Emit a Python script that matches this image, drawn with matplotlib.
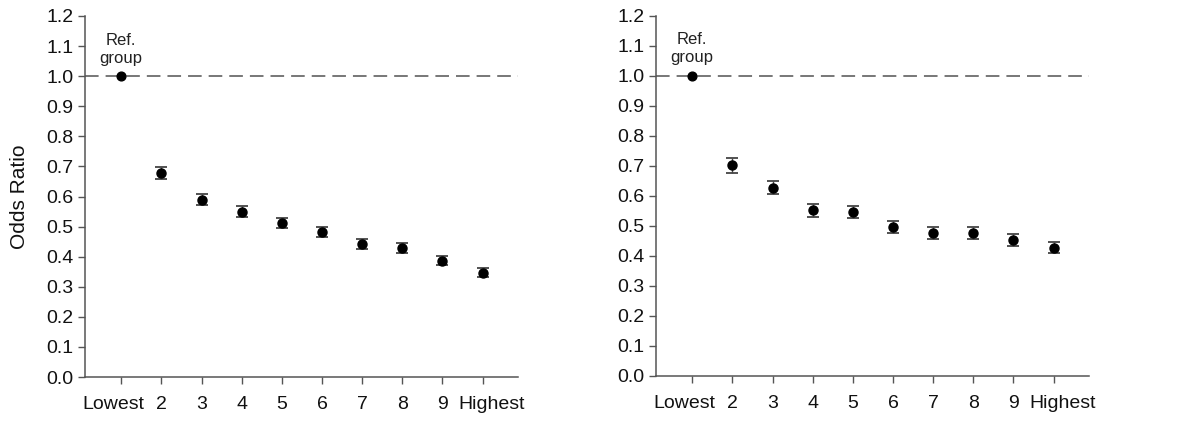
import matplotlib
matplotlib.use("Agg")
import matplotlib.pyplot as plt
import matplotlib.transforms as mtrans

categories = ["Lowest", "2", "3", "4", "5", "6", "7", "8", "9", "Highest"]
left_or = [1.0, 0.678, 0.590, 0.549, 0.512, 0.481, 0.441, 0.430, 0.387, 0.346]
left_err = [0.0, 0.019, 0.018, 0.018, 0.018, 0.016, 0.017, 0.017, 0.016, 0.015]
right_or = [1.0, 0.702, 0.628, 0.552, 0.548, 0.496, 0.477, 0.477, 0.453, 0.427]
right_err = [0.0, 0.024, 0.022, 0.021, 0.020, 0.020, 0.019, 0.019, 0.019, 0.018]
yticks = [round(0.1 * i, 1) for i in range(13)]

plt.rcParams['font.family'] = ['Liberation Sans', 'DejaVu Sans']
fig = plt.figure(figsize=(11.81, 4.21), dpi=100)
ax1 = fig.add_axes([0.072, 0.1045, 0.3666, 0.8575])
ax2 = fig.add_axes([0.5555, 0.107, 0.3666, 0.855])

axc = '#555555'
for ax, vals, errs in [(ax1, left_or, left_err), (ax2, right_or, right_err)]:
    x = list(range(1, len(categories) + 1))
    ax.axhline(1.0, color='#777777', lw=1.4, ls=(0, (7, 3.6)), zorder=1)
    ax.errorbar(x[1:], vals[1:], yerr=errs[1:], fmt='o', color='black', ms=6.5,
                ecolor='#444444', elinewidth=1.0, capsize=4, capthick=1.3, zorder=3)
    ax.plot(x[0], vals[0], 'o', color='black', ms=6.3, zorder=3)
    ax.text(x[0], 1.035, "Ref.\ngroup", ha='center', va='bottom', fontsize=12,
            color='#222222', linespacing=1.25)
    ax.set_xlim(0.1, 10.88)
    ax.set_ylim(0, 1.2)
    ax.set_yticks(yticks)
    ax.set_yticklabels([f"{v:.1f}" for v in yticks])
    ax.set_xticks(x)
    ax.set_xticklabels(categories)
    for s in ['top', 'right']:
        ax.spines[s].set_visible(False)
    for s in ['left', 'bottom']:
        ax.spines[s].set_color(axc)
        ax.spines[s].set_linewidth(1.1)
    ax.tick_params(axis='both', direction='out', length=5, width=1.0, color=axc,
                   labelsize=14, labelcolor='#111111')
    ax.tick_params(axis='x', pad=9)
    labels = ax.get_xticklabels()
    labels[0].set_transform(labels[0].get_transform() +
                            mtrans.ScaledTranslation(-8 / 100, 0, fig.dpi_scale_trans))
    labels[-1].set_transform(labels[-1].get_transform() +
                             mtrans.ScaledTranslation(9 / 100, 0, fig.dpi_scale_trans))

ax1.set_ylabel("Odds Ratio", fontsize=15, color='#111111', labelpad=12)

fig.savefig("out.png", dpi=100)
